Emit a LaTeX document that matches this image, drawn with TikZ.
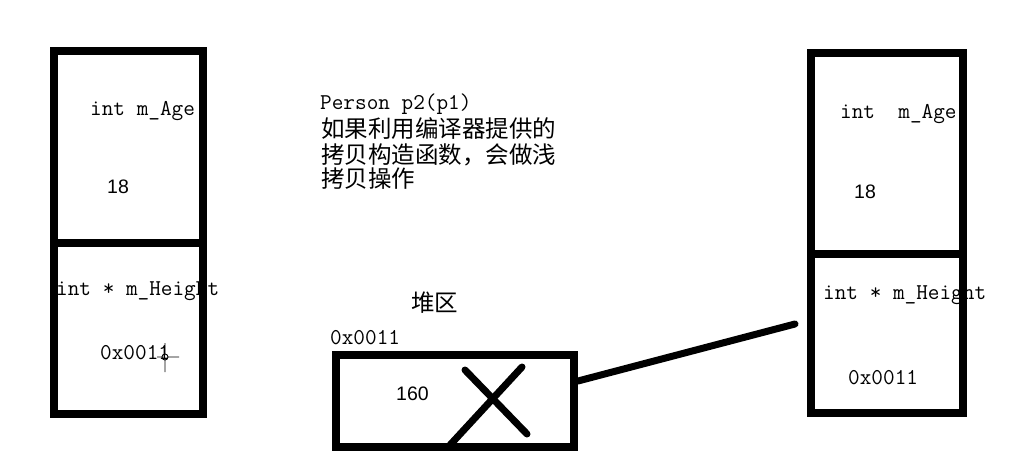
\documentclass[tikz,border=0pt]{standalone}
\usepackage{fontspec}
\newfontfamily\cjk{Noto Sans CJK SC}
\newfontfamily\numfont{Liberation Sans}
\usetikzlibrary{calc}
\tikzset{
  wall/.style={line width=7.5pt},
  stroke/.style={line width=7pt,line cap=round},
  ttlabel/.style={inner sep=0pt,anchor=base west,font=\ttfamily\fontsize{22.6}{25}\selectfont},
  numlabel/.style={inner sep=0pt,anchor=base west,font=\numfont\fontsize{19.5}{22}\selectfont},
  cjklabel/.style={inner sep=0pt,anchor=base west,font=\cjk\fontsize{23.5}{26}\selectfont},
}

\begin{document}
\begin{tikzpicture}[x=1pt,y=-1pt]
\useasboundingbox (0,0) rectangle (1009,474);
% p1
\node[ttlabel] (lage) at (90,115) {int m\_Age};
\node[numlabel] (lageval) at (107,193) {18};
\node[ttlabel] (lheight) at (56,295) {int * m\_Height};
\node[ttlabel] (lheightval) at (100,359) {0x0011};
\draw[wall] (54,51) rectangle (203,414);
\draw[wall] (54,243)--(203,243);
\draw[line width=0.9pt] (165,343)--(165,354) (165,360)--(165,372) (157,357)--(162,357) (168,357)--(179,357) (165,357) circle (3);
% p2
\node[ttlabel] (rage) at (840,118) {int\ \ m\_Age};
\node[numlabel] (rageval) at (854,198) {18};
\node[ttlabel] (rheight) at (823,299) {int * m\_Height};
\node[ttlabel] (rheightval) at (848,384) {0x0011};
\draw[wall] (811,53) rectangle (963,413);
\draw[wall] (811,254)--(963,254);
% note
\node[ttlabel] (note1) at (320,109) {Person p2(p1)};
\node[cjklabel] (note2) at (321,137) {如果利用编译器提供的};
\node[cjklabel] (note3) at (321,163) {拷贝构造函数，会做浅};
\node[cjklabel] (note4) at (321,187) {拷贝操作};
% heap
\node[cjklabel] (heaptitle) at (411,311) {堆区};
\node[ttlabel] (heapaddr) at (330,344) {0x0011};
\node[numlabel] (heapval) at (396,400) {160};
\draw[stroke] (465,370)--(527,434);
\draw[stroke] (522,367)--(450,445);
\draw[wall] (336,355) rectangle (574,447);
\coordinate (heapout) at (578,381);
\coordinate (ptrend) at (795,324);
\draw[stroke] (heapout)--(ptrend);
\end{tikzpicture}
\end{document}
